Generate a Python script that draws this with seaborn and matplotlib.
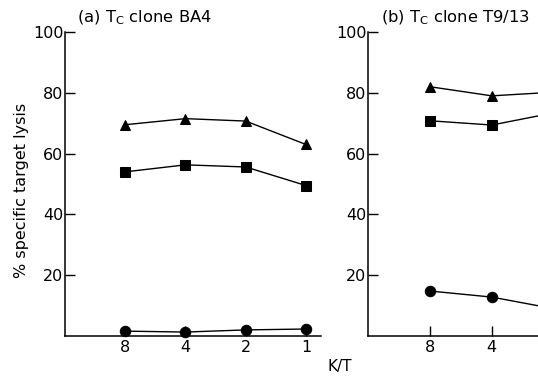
import matplotlib
matplotlib.use("Agg")
import matplotlib.pyplot as plt
import seaborn as sns
import pandas as pd

# Data
ratios = ["8", "4", "2", "1"]
a_triangle = [69.5, 71.5, 70.7, 63.0]
a_square = [54.0, 56.3, 55.6, 49.5]
a_circle = [1.6, 1.3, 2.0, 2.3]
b_triangle = [82.0, 79.0, 80.2, 80.5]
b_square = [70.8, 69.4, 73.4, 72.0]
b_circle = [14.8, 12.8, 9.0, 7.0]
b_visible_labels = ["8", "4", "", ""]   # labels beyond the cropped edge are not shown
yticks = [20, 40, 60, 80, 100]
title_a = r"(a) T$_{\mathrm{C}}$ clone BA4"
title_b = r"(b) T$_{\mathrm{C}}$ clone T9/13"

sns.set_theme(style="white")
plt.rcParams["font.family"] = ["DejaVu Sans"]
plt.rcParams["text.color"] = "black"

W, H = 538, 377
fig = plt.figure(figsize=(W / 100, H / 100), dpi=100)

pos = list(range(len(ratios)))

def panel(rect, tri, sq, circ, xlabels):
    ax = fig.add_axes(rect)
    for vals, mk in ((tri, "^"), (sq, "s"), (circ, "o")):
        df = pd.DataFrame({"x": pos, "y": vals})
        sns.lineplot(data=df, x="x", y="y", ax=ax, color="black", lw=1.0,
                     marker=mk, markersize=7.5 if mk != "s" else 6.8,
                     markeredgecolor="black", markerfacecolor="black",
                     clip_on=False)
    ax.set_xlim(-1, 3.25)
    ax.set_ylim(0, 100)
    ax.set_xticks(pos)
    ax.set_xticklabels(xlabels)
    ax.set_yticks(yticks)
    ax.set_yticklabels([str(v) for v in yticks])
    ax.set_xlabel("")
    ax.set_ylabel("")
    for s in ("top", "right"):
        ax.spines[s].set_visible(False)
    for s in ("left", "bottom"):
        ax.spines[s].set_color("black")
        ax.spines[s].set_linewidth(1.1)
    ax.tick_params(axis="both", direction="in", length=7, width=1.0,
                   colors="black", labelcolor="black", labelsize=11.5,
                   bottom=True, left=True)
    ax.tick_params(axis="y", pad=1)
    ax.tick_params(axis="x", pad=3)
    ax.patch.set_alpha(0)
    return ax

axb = panel([368 / W, 41 / H, 263 / W, 304 / H], b_triangle, b_square, b_circle,
            b_visible_labels)
axa = panel([65 / W, 41 / H, 256 / W, 304 / H], a_triangle, a_square, a_circle,
            ratios)

fig.text(77 / W, 1 - 18 / H, title_a, fontsize=11.8, va="center", ha="left")
fig.text(381 / W, 1 - 18 / H, title_b, fontsize=11.8, va="center", ha="left")
fig.text(22 / W, 1 - 190 / H, "% specific target lysis", rotation=90,
         fontsize=11.5, va="center", ha="center")
fig.text(340 / W, 1 - 367 / H, "K/T", fontsize=11, va="center", ha="center")

fig.savefig("out.png", dpi=100, facecolor="white")
